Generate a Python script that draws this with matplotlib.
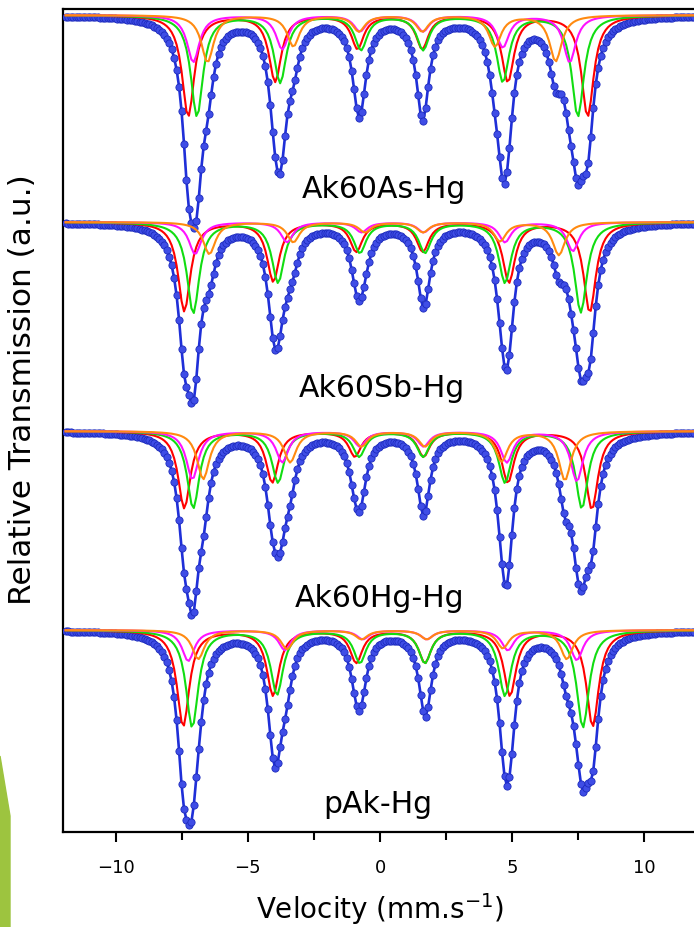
import matplotlib.pyplot as plt
import numpy as np
from matplotlib.patches import Polygon

plt.rcParams['font.family'] = ['DejaVu Sans']

# скорость (mm/s), каналы спектрометра
velocity = np.linspace(-11.9, 11.9, 256)

samples = ['Ak60As-Hg', 'Ak60Sb-Hg', 'Ak60Hg-Hg', 'pAk-Hg']
offsets = [817, 610, 401, 202]   # базовая линия каждого спектра (a.u.)
line_hwhm = 0.28                 # полуширина линий компонент, mm/s
broad_hwhm = 0.5                 # широкий вклад в общую подгонку

# положения шести линий секстетов (mm/s), по образцам
red_pos = [[-7.26, -3.97, -0.85, 1.60, 4.84, 7.86],
           [-7.41, -4.04, -0.90, 1.62, 4.88, 7.94],
           [-7.41, -4.08, -0.95, 1.65, 4.84, 8.02],
           [-7.45, -4.05, -0.90, 1.70, 4.92, 8.05]]
red_depth = [[101, 66, 33, 33, 66, 101],
             [89, 59, 29, 29, 60, 90],
             [77, 51, 25, 25, 51, 78],
             [96, 65, 32, 32, 65, 96]]

green_pos = [[-6.93, -3.78, -0.72, 1.63, 4.65, 7.49],
             [-7.07, -3.86, -0.76, 1.70, 4.73, 7.60],
             [-7.07, -3.86, -0.79, 1.63, 4.73, 7.64],
             [-7.11, -3.90, -0.76, 1.70, 4.73, 7.68]]
green_depth = [[101, 67, 34, 34, 66, 101],
               [91, 60, 30, 30, 60, 90],
               [77, 51, 25, 25, 51, 77],
               [97, 64, 32, 32, 65, 97]]

magenta_pos = [[-7.07, -3.70, -0.76, 1.63, 4.65, 7.18],
               [-7.00, -3.52, -0.70, 1.65, 4.73, 7.30],
               [-7.10, -3.70, -0.76, 1.65, 4.80, 7.45],
               [-7.26, -3.60, -0.65, 1.77, 4.84, 7.45]]
magenta_depth = [[47, 34, 16, 16, 32, 47],
                 [32, 20, 10, 10, 20, 29],
                 [48, 31, 15, 15, 31, 50],
                 [31, 20, 9, 9, 20, 30]]

orange_pos = [[-6.53, -3.28, -0.80, 1.60, 4.35, 6.65],
              [-6.46, -3.28, -0.57, 1.63, 4.54, 6.77],
              [-6.69, -3.40, -0.70, 1.70, 4.60, 7.00],
              [-6.88, -3.52, -0.70, 1.77, 4.65, 7.07]]
orange_depth = [[47, 31, 16, 16, 31, 46],
                [32, 20, 10, 10, 19, 33],
                [48, 31, 15, 15, 30, 49],
                [29, 19, 9, 9, 18, 29]]

# минимумы общей подгонки (синяя кривая) и её широкий остаток
fit_pos = [[-7.18, -3.78, -0.76, 1.63, 4.65, 7.64],
           [-7.18, -3.90, -0.68, 1.70, 4.73, 7.68],
           [-7.10, -3.86, -0.83, 1.63, 4.73, 7.75],
           [-7.26, -3.90, -0.76, 1.70, 4.80, 7.83]]
broad_depth = [[4, 4, 3, 3, 4, 4],
               [17, 8, 5, 5, 3, 13],
               [9, 8, 5, 2, 2, 12],
               [10, 2, 2, 2, 2, 5]]

# подписи образцов: центр по скорости и высота базовой линии текста
label_x = [0.15, 0.08, 0.0, -0.1]
label_y = [635, 436, 226, 20]


def sextet(pos, depth, hwhm=line_hwhm):
    # сумма лоренцианов
    a = np.zeros_like(velocity)
    for p, d in zip(pos, depth):
        a += d / (1 + ((velocity - p) / hwhm) ** 2)
    return a


fig = plt.figure(figsize=(6.94, 9.28), dpi=100)

# зелёный элемент оформления слайда слева внизу
fig.patches.append(Polygon([(0, 1 - 757 / 928), (10 / 694, 1 - 817 / 928),
                            (10 / 694, 0), (0, 0)], closed=True,
                           transform=fig.transFigure, color='#9dc43f', zorder=0))

ax = fig.add_axes([63 / 694, 1 - 833 / 928, (697 - 63) / 694, (833 - 9.5) / 928])

components = [(red_pos, red_depth, '#ff0000'),
              (green_pos, green_depth, '#11dd11'),
              (magenta_pos, magenta_depth, '#ff11ff'),
              (orange_pos, orange_depth, '#ff8a10')]

for i, name in enumerate(samples):
    base = offsets[i]
    total = sextet(fit_pos[i], broad_depth[i], broad_hwhm)
    for pos, depth, col in components:
        total += sextet(pos[i], depth[i])
    ax.plot(velocity, base - total, color='#1f2fd8', lw=1.9, zorder=2)
    ax.plot(velocity, base - total, ls='', marker='o', ms=5.2,
            mfc='#3f4de6', mec='#1d2bbd', mew=0.6, zorder=3)
    for pos, depth, col in components:
        ax.plot(velocity, base - sextet(pos[i], depth[i]), color=col, lw=1.5, zorder=4)

for name, x, y in zip(samples, label_x, label_y):
    ax.text(x, y, name, ha='center', va='baseline', fontsize=21.5)

ax.set_xlim(-12, 12)
ax.set_ylim(0, 823.5)
ax.set_yticks([])
ax.set_xticks([-10, -5, 0, 5, 10])
ax.set_xticks([-7.5, -2.5, 2.5, 7.5], minor=True)
ax.tick_params(axis='x', which='major', direction='out', length=7, width=1.5,
               labelsize=13, pad=12)
ax.tick_params(axis='x', which='minor', direction='out', length=6, width=1.5)
for s in ax.spines.values():
    s.set_linewidth(1.6)

fig.text(380 / 694, 1 - 919 / 928, 'Velocity (mm.s$^{-1}$)', ha='center',
         va='baseline', fontsize=20)
fig.text(23 / 694, 1 - 390 / 928, 'Relative Transmission (a.u.)', rotation=90,
         ha='center', va='center', fontsize=22.5)

fig.savefig('out.png', dpi=100)
